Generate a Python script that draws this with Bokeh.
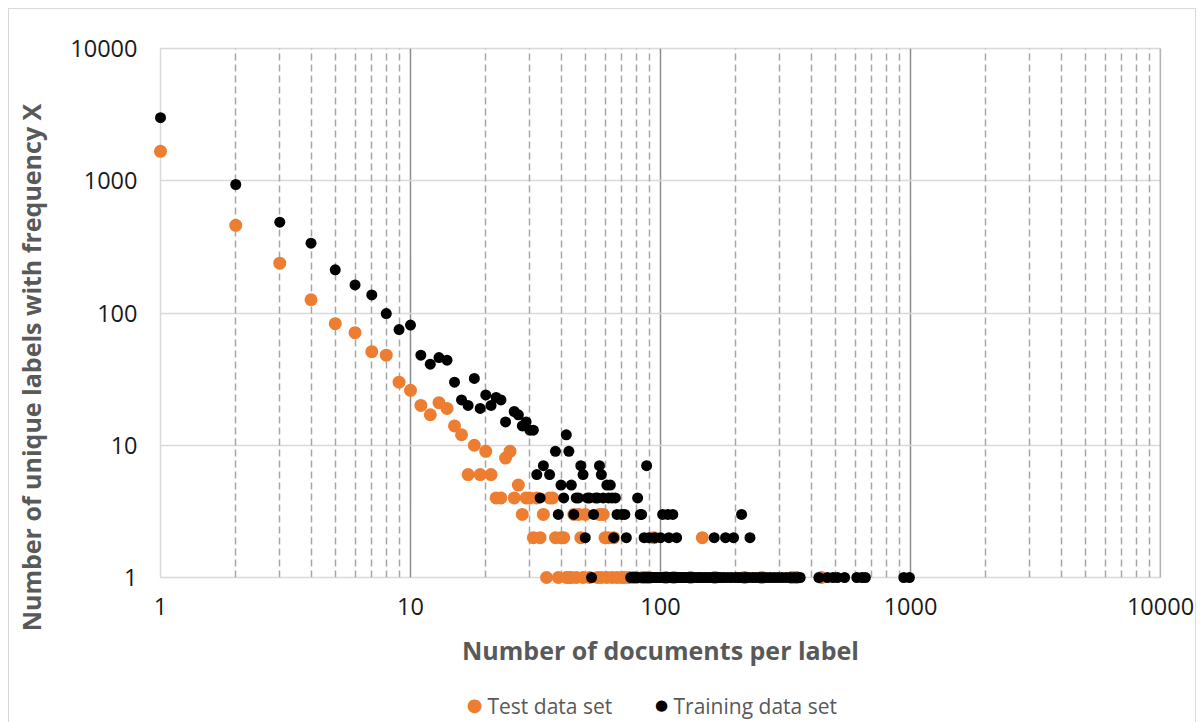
import math
from bokeh.plotting import figure
from bokeh.models import FixedTicker, Grid, Span, ColumnDataSource
from bokeh.core.properties import value
from bokeh.embed import file_html
from bokeh.resources import INLINE

# ---------------- data ----------------
series_names = ["Test data set", "Training data set"]
series_colors = ["#ED7D31", "#000000"]

test_docs = [1, 2, 3, 4, 5, 6, 7, 8, 9, 10, 11, 12, 13, 14, 15, 16, 17, 18, 19, 20,
             21, 22, 23, 24, 25, 26, 27, 28, 29, 30, 31, 32, 33, 34, 35, 36, 37, 38,
             39, 40, 41, 42, 43, 44, 45, 46, 47, 48, 49, 50, 52, 56, 57, 58, 59, 60,
             61, 62, 64, 65, 67, 70, 72, 75, 78, 80, 85, 88, 90, 94, 105, 113, 132,
             147, 165, 217, 254, 335, 350, 440]
test_labels = [1670, 460, 238, 126, 83, 71, 51, 48, 30, 26, 20, 17, 21, 19, 14, 12, 6, 10, 6, 9,
               6, 4, 4, 8, 9, 4, 5, 3, 4, 4, 2, 4, 2, 3, 1, 4, 4, 2,
               1, 2, 2, 1, 1, 1, 3, 1, 3, 2, 1, 3, 1, 1, 3, 1, 3, 2,
               1, 2, 1, 2, 1, 1, 1, 1, 1, 1, 1, 1, 1, 2, 1, 1, 1,
               2, 1, 1, 1, 1, 1, 1]

train_docs = [1, 2, 3, 4, 5, 6, 7, 8, 9, 10, 11, 12, 13, 14, 15, 16, 17, 18, 19, 20,
              21, 22, 23, 24, 26, 27, 28, 29, 30, 31, 32, 33, 34, 36, 38, 39, 40, 41,
              42, 43, 44, 45, 46, 47, 48, 49, 50, 51, 52, 53, 54, 55, 56, 57, 58, 59,
              61, 62, 63, 64, 65, 66, 67, 70, 72, 73, 81, 83, 84, 86, 88, 90, 95, 100,
              102, 107, 108, 112, 116, 164, 182, 196, 211, 228,
              76, 77, 78, 79, 80, 82, 85, 87, 89, 91, 92, 93, 94, 96, 97, 98, 99, 101,
              103, 104, 105, 106, 109, 110, 111, 114, 117, 118, 119, 121, 123, 125,
              127, 130, 133, 136, 140, 143, 146, 150, 154, 158, 162, 167, 171, 175,
              180, 186, 192, 199, 204, 210, 218, 225, 233, 240, 248, 257, 265, 275,
              285, 295, 306, 318, 330, 343, 356, 362, 430, 465, 490, 510, 545, 610,
              640, 660, 940, 990, 1360, 1860]
train_labels = [3000, 937, 486, 337, 212, 163, 137, 99, 75, 81, 48, 41, 46, 44, 30, 22, 20, 32, 19, 24,
                20, 23, 22, 15, 18, 17, 14, 15, 13, 13, 6, 4, 7, 6, 9, 3, 5, 4,
                12, 9, 5, 3, 4, 4, 7, 6, 2, 4, 4, 1, 3, 4, 4, 7, 6, 4,
                5, 4, 5, 4, 2, 4, 3, 3, 3, 2, 4, 3, 3, 2, 7, 2, 2, 2,
                3, 3, 2, 3, 2, 2, 2, 2, 3, 2,
                1, 1, 1, 1, 1, 1, 1, 1, 1, 1, 1, 1, 1, 1, 1, 1, 1, 1,
                1, 1, 1, 1, 1, 1, 1, 1, 1, 1, 1, 1,
                1, 1, 1, 1, 1, 1, 1, 1, 1, 1, 1, 1, 1, 1,
                1, 1, 1, 1, 1, 1, 1, 1, 1, 1, 1, 1, 1, 1,
                1, 1, 1, 1, 1, 1, 1, 1, 1, 1, 1, 1, 1, 1,
                1, 1, 1, 1, 1, 1]

x_ticks = [1, 10, 100, 1000, 10000]
x_tick_labels = ["1", "10", "100", "1000", "10000"]
y_ticks = [1, 10, 100, 1000, 10000]
y_tick_labels = ["1", "10", "100", "1000", "10000"]
x_title = "Number of documents per label"
y_title = "Number of unique labels with frequency X"

# ---------------- layout ----------------
W, H = 1204, 722
L, R, T, B = 160, 44, 48, 145          # frame borders in pixels
FONT = "Open Sans"
GREY_TXT = "#595959"

frame_w, frame_h = W - L - R, H - T - B
dec_x = frame_w / math.log10(x_ticks[-1] / x_ticks[0])
dec_y = frame_h / math.log10(y_ticks[-1] / y_ticks[0])


def px_x(px):
    """screen x (pixels from the left) -> data x on the log axis"""
    return x_ticks[0] * 10 ** ((px - L) / dec_x)


def px_y(py):
    """screen y (pixels from the top) -> data y on the log axis"""
    return y_ticks[0] * 10 ** ((H - B - py) / dec_y)


p = figure(width=W, height=H, x_axis_type="log", y_axis_type="log",
           x_range=(x_ticks[0], x_ticks[-1]), y_range=(y_ticks[0], y_ticks[-1]),
           output_backend="svg", toolbar_location=None,
           min_border_left=L, min_border_right=R, min_border_top=T,
           min_border_bottom=B)
p.background_fill_color = "white"
p.border_fill_color = None
p.outline_line_color = "#D9D9D9"
p.outline_line_width = 1.5
p.styles = {"box-shadow": ("inset 8px 8px 0 white, inset -8px 0 0 white, "
                           "inset 9px 9px 0 #D9D9D9, inset -9px 0 0 #D9D9D9"),
            "background": "white"}

# grids
p.xgrid.ticker = FixedTicker(ticks=x_ticks)
p.xgrid.grid_line_color = "#8C8C8C"
p.xgrid.grid_line_width = 1.5
p.ygrid.ticker = FixedTicker(ticks=y_ticks)
p.ygrid.grid_line_color = "#D9D9D9"
p.ygrid.grid_line_width = 1.5

minor = [m * d for d in x_ticks[:-1] for m in range(2, 10)]
p.add_layout(Grid(dimension=0, ticker=FixedTicker(ticks=minor),
                  grid_line_color="#A6A6A6", grid_line_width=1.5,
                  grid_line_dash="7 4"))
p.add_layout(Span(location=x_ticks[-1], dimension="height",
                  line_color="#8C8C8C", line_width=1.5))

# axes
for ax in (p.xaxis[0], p.yaxis[0]):
    ax.axis_line_color = None
    ax.major_tick_line_color = None
    ax.minor_tick_line_color = None
    ax.major_tick_out = 0
    ax.major_tick_in = 0
    ax.minor_tick_out = 0
    ax.major_label_text_font = FONT
    ax.major_label_text_font_size = "23.5px"
    ax.major_label_text_color = "#1A1A1A"

p.xaxis.ticker = FixedTicker(ticks=x_ticks)
p.xaxis.major_label_overrides = {t: s for t, s in zip(x_ticks, x_tick_labels)}
p.xaxis.major_label_standoff = 20
p.xaxis.axis_label = x_title
p.xaxis.axis_label_standoff = 15
p.xaxis.axis_label_text_font = FONT
p.xaxis.axis_label_text_font_size = "25px"
p.xaxis.axis_label_text_font_style = "bold"
p.xaxis.axis_label_text_color = GREY_TXT

p.yaxis.ticker = FixedTicker(ticks=y_ticks)
p.yaxis.major_label_overrides = {t: s for t, s in zip(y_ticks, y_tick_labels)}
p.yaxis.major_label_standoff = 23

# data
src_test = ColumnDataSource(dict(x=test_docs, y=test_labels))
src_train = ColumnDataSource(dict(x=train_docs, y=train_labels))
r_test = p.scatter("x", "y", source=src_test, size=13, color=series_colors[0],
                   line_color=None, level="overlay")
r_train = p.scatter("x", "y", source=src_train, size=11, color=series_colors[1],
                    line_color=None, level="overlay")

# y-axis title, centred on the whole chart height as in the original
p.text(x=[px_x(30)], y=[px_y(367)], text=[y_title], angle=math.pi / 2,
       text_align="center", text_baseline="middle", text_font=value(FONT),
       text_font_size="25px", text_font_style="bold", text_color=GREY_TXT,
       level="overlay")

# legend below the axis title (dots drawn as text so they sit outside the frame)
dots = ColumnDataSource(dict(x=[px_x(474), px_x(661)],
                             y=[px_y(703.5), px_y(704)],
                             t=["\u25CF", "\u25CF"], c=series_colors,
                             s=["18px", "15px"]))
p.text(x="x", y="y", text="t", text_color="c", text_font_size="s",
       source=dots, text_align="center", text_baseline="middle",
       text_font=value("DejaVu Sans"), level="overlay")
leg_y = px_y(705)
p.text(x=[px_x(487), px_x(673)], y=[leg_y, leg_y], text=series_names,
       text_align="left", text_baseline="middle", text_font=value(FONT),
       text_font_size="21px", text_color=GREY_TXT, level="overlay")

open("out.html", "w").write(file_html(p, INLINE))
